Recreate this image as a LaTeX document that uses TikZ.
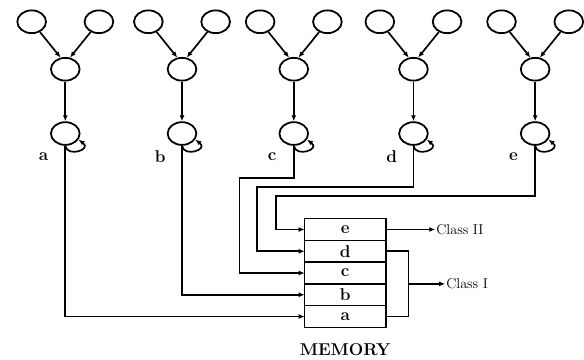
\documentclass[tikz,border=0pt]{standalone}
\usetikzlibrary{arrows.meta,shapes.geometric}

\tikzset{
  cell/.style={draw, ellipse, line width=1.8pt, minimum width=29pt,
    minimum height=23pt, inner sep=0pt},
  flow/.style={line width=1.7pt, -{Latex[length=6pt,width=5pt]}},
  wire/.style={line width=1.7pt},
  slot/.style={draw, line width=1.6pt, minimum width=82pt,
    minimum height=22pt, inner sep=0pt, outer sep=0pt, font=\LARGE\bfseries},
  tag/.style={font=\LARGE\bfseries, inner sep=1pt}
}

\begin{document}
\begin{tikzpicture}[x=1pt,y=-1pt]

    % -------------------------------------------------
    % White background (fixes the page size)
    % -------------------------------------------------
    \fill[white] (0,0) rectangle (584,363);

    % -------------------------------------------------
    % The five units a..e
    %
    % two input cells feed a middle cell, which feeds
    % an output cell with a self loop.
    % -------------------------------------------------
    \foreach \n/\x in {a/66, b/184, c/297, d/418, e/541}{
        \node[cell] (in1-\n) at (\x-34,22) {};
        \node[cell] (in2-\n) at (\x+34,22) {};
        \node[cell] (mid-\n) at (\x,70) {};
        \node[cell] (out-\n) at (\x,135) {};
        \node[tag]  (lab-\n) at (\x-22,158) {\n};

        \draw[flow] (in1-\n) -- (mid-\n.112);
        \draw[flow] (in2-\n) -- (mid-\n.68);
        \draw[flow] (mid-\n) -- (out-\n);

        % self loop
        \draw[flow] (out-\n.south)
            .. controls +(2,12) and +(14,10) .. (out-\n.-25);
    }

    % -------------------------------------------------
    % Memory, one slot per unit
    % -------------------------------------------------
    \node[slot] (mem-e) at (349,232) {e};
    \node[slot] (mem-d) at (349,254) {d};
    \node[slot] (mem-c) at (349,276) {c};
    \node[slot] (mem-b) at (349,298) {b};
    \node[slot] (mem-a) at (349,320) {a};
    \node[font=\LARGE\bfseries] (memory) at (349,353) {MEMORY};

    % -------------------------------------------------
    % Wires from the output cells into memory
    % -------------------------------------------------
    \draw[flow] (out-a.south) |- (mem-a.west);
    \draw[flow] (out-b.south) |- (mem-b.west);
    \draw[flow] (out-c.south) |- (242,180) |- (mem-c.west);
    \draw[flow] (out-d.south) |- (260,189) |- (mem-d.west);
    \draw[flow] (out-e.south) |- (279,198) |- (mem-e.west);

    % -------------------------------------------------
    % Classes
    % -------------------------------------------------
    \node[font=\Large, anchor=west, inner sep=1pt] (cls2) at (440,232) {Class II};
    \node[font=\Large, anchor=west, inner sep=1pt] (cls1) at (450,287) {Class I};

    \draw[flow] (mem-e.east) -- (cls2.west);

    \coordinate (brk) at (413,287);
    \draw[wire] (mem-d.east) -| (brk) |- (mem-a.east);
    \draw[flow] (brk) -- (cls1.west);

\end{tikzpicture}
\end{document}
